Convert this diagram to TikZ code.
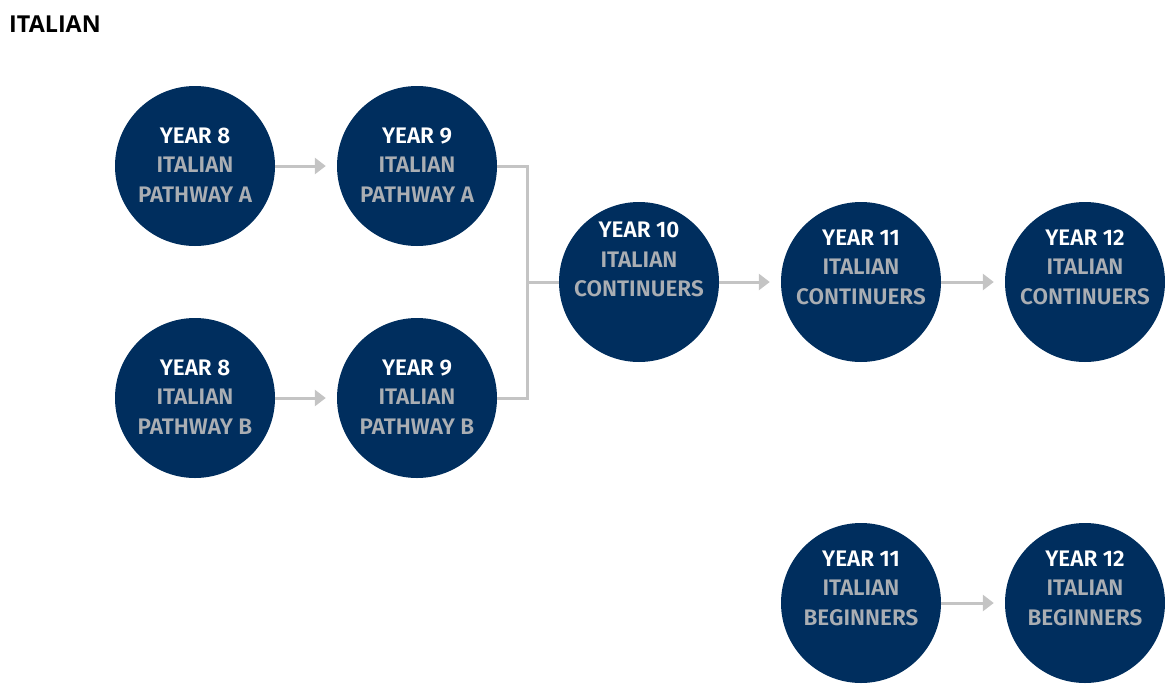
\documentclass[tikz,border=0pt]{standalone}
\usepackage{fontspec}
\setmainfont{Fira Sans}[BoldFont={Fira Sans SemiBold}]
\newfontfamily\titlefont{Open Sans}
\usetikzlibrary{arrows.meta}
\definecolor{navy}{HTML}{002E5E}
\definecolor{ltext}{HTML}{AAAEB3}
\definecolor{conn}{HTML}{C4C4C4}
\begin{document}
\begin{tikzpicture}[x=1pt,y=-1pt,
  yearcirc/.style={circle,fill=navy,minimum size=160pt,inner sep=0pt},
  yeartext/.style={align=center,font=\fontsize{22.5}{29.5}\selectfont\bfseries,text=ltext,inner sep=0pt},
  flow/.style={draw=conn,line width=3pt},
  flowarrow/.style={flow,-{Triangle[length=11pt,width=16pt]},shorten >=11pt}
]
\useasboundingbox (0,0) rectangle (1165,683);
\node[anchor=base west,inner sep=0pt,font=\titlefont\fontsize{23.3}{26}\selectfont\bfseries] (title) at (9,32) {ITALIAN};

\node[yearcirc] (c8a) at (195,166) {};
\node[yearcirc] (c9a) at (417,166) {};
\node[yearcirc] (c8b) at (195,398) {};
\node[yearcirc] (c9b) at (417,398) {};
\node[yearcirc] (c10) at (639,282) {};
\node[yearcirc] (c11) at (861,282) {};
\node[yearcirc] (c12) at (1085,282) {};
\node[yearcirc] (b11) at (861,603) {};
\node[yearcirc] (b12) at (1085,603) {};

\node[yeartext] (t8a) at ([yshift=1pt]c8a.center) {\textcolor{white}{YEAR 8}\\ITALIAN\\PATHWAY A};
\node[yeartext] (t9a) at ([yshift=1pt]c9a.center) {\textcolor{white}{YEAR 9}\\ITALIAN\\PATHWAY A};
\node[yeartext] (t8b) at ([yshift=1pt]c8b.center) {\textcolor{white}{YEAR 8}\\ITALIAN\\PATHWAY B};
\node[yeartext] (t9b) at ([yshift=1pt]c9b.center) {\textcolor{white}{YEAR 9}\\ITALIAN\\PATHWAY B};
\node[yeartext] (t10) at ([yshift=22.5pt]c10.center) {\textcolor{white}{YEAR 10}\\ITALIAN\\CONTINUERS};
\node[yeartext] (t11) at ([yshift=15pt]c11.center) {\textcolor{white}{YEAR 11}\\ITALIAN\\CONTINUERS};
\node[yeartext] (t12) at ([yshift=15pt]c12.center) {\textcolor{white}{YEAR 12}\\ITALIAN\\CONTINUERS};
\node[yeartext] (tb11) at ([yshift=15pt]b11.center) {\textcolor{white}{YEAR 11}\\ITALIAN\\BEGINNERS};
\node[yeartext] (tb12) at ([yshift=15pt]b12.center) {\textcolor{white}{YEAR 12}\\ITALIAN\\BEGINNERS};

\coordinate (join) at (527,282);
\draw[flowarrow] (c8a.east) -- (c9a.west);
\draw[flowarrow] (c8b.east) -- (c9b.west);
\draw[flow] (c9a.east) -| (join);
\draw[flow] (c9b.east) -| (join);
\draw[flow] (join) -- (c10.west);
\draw[flowarrow] (c10.east) -- (c11.west);
\draw[flowarrow] (c11.east) -- (c12.west);
\draw[flowarrow] (b11.east) -- (b12.west);
\end{tikzpicture}
\end{document}
